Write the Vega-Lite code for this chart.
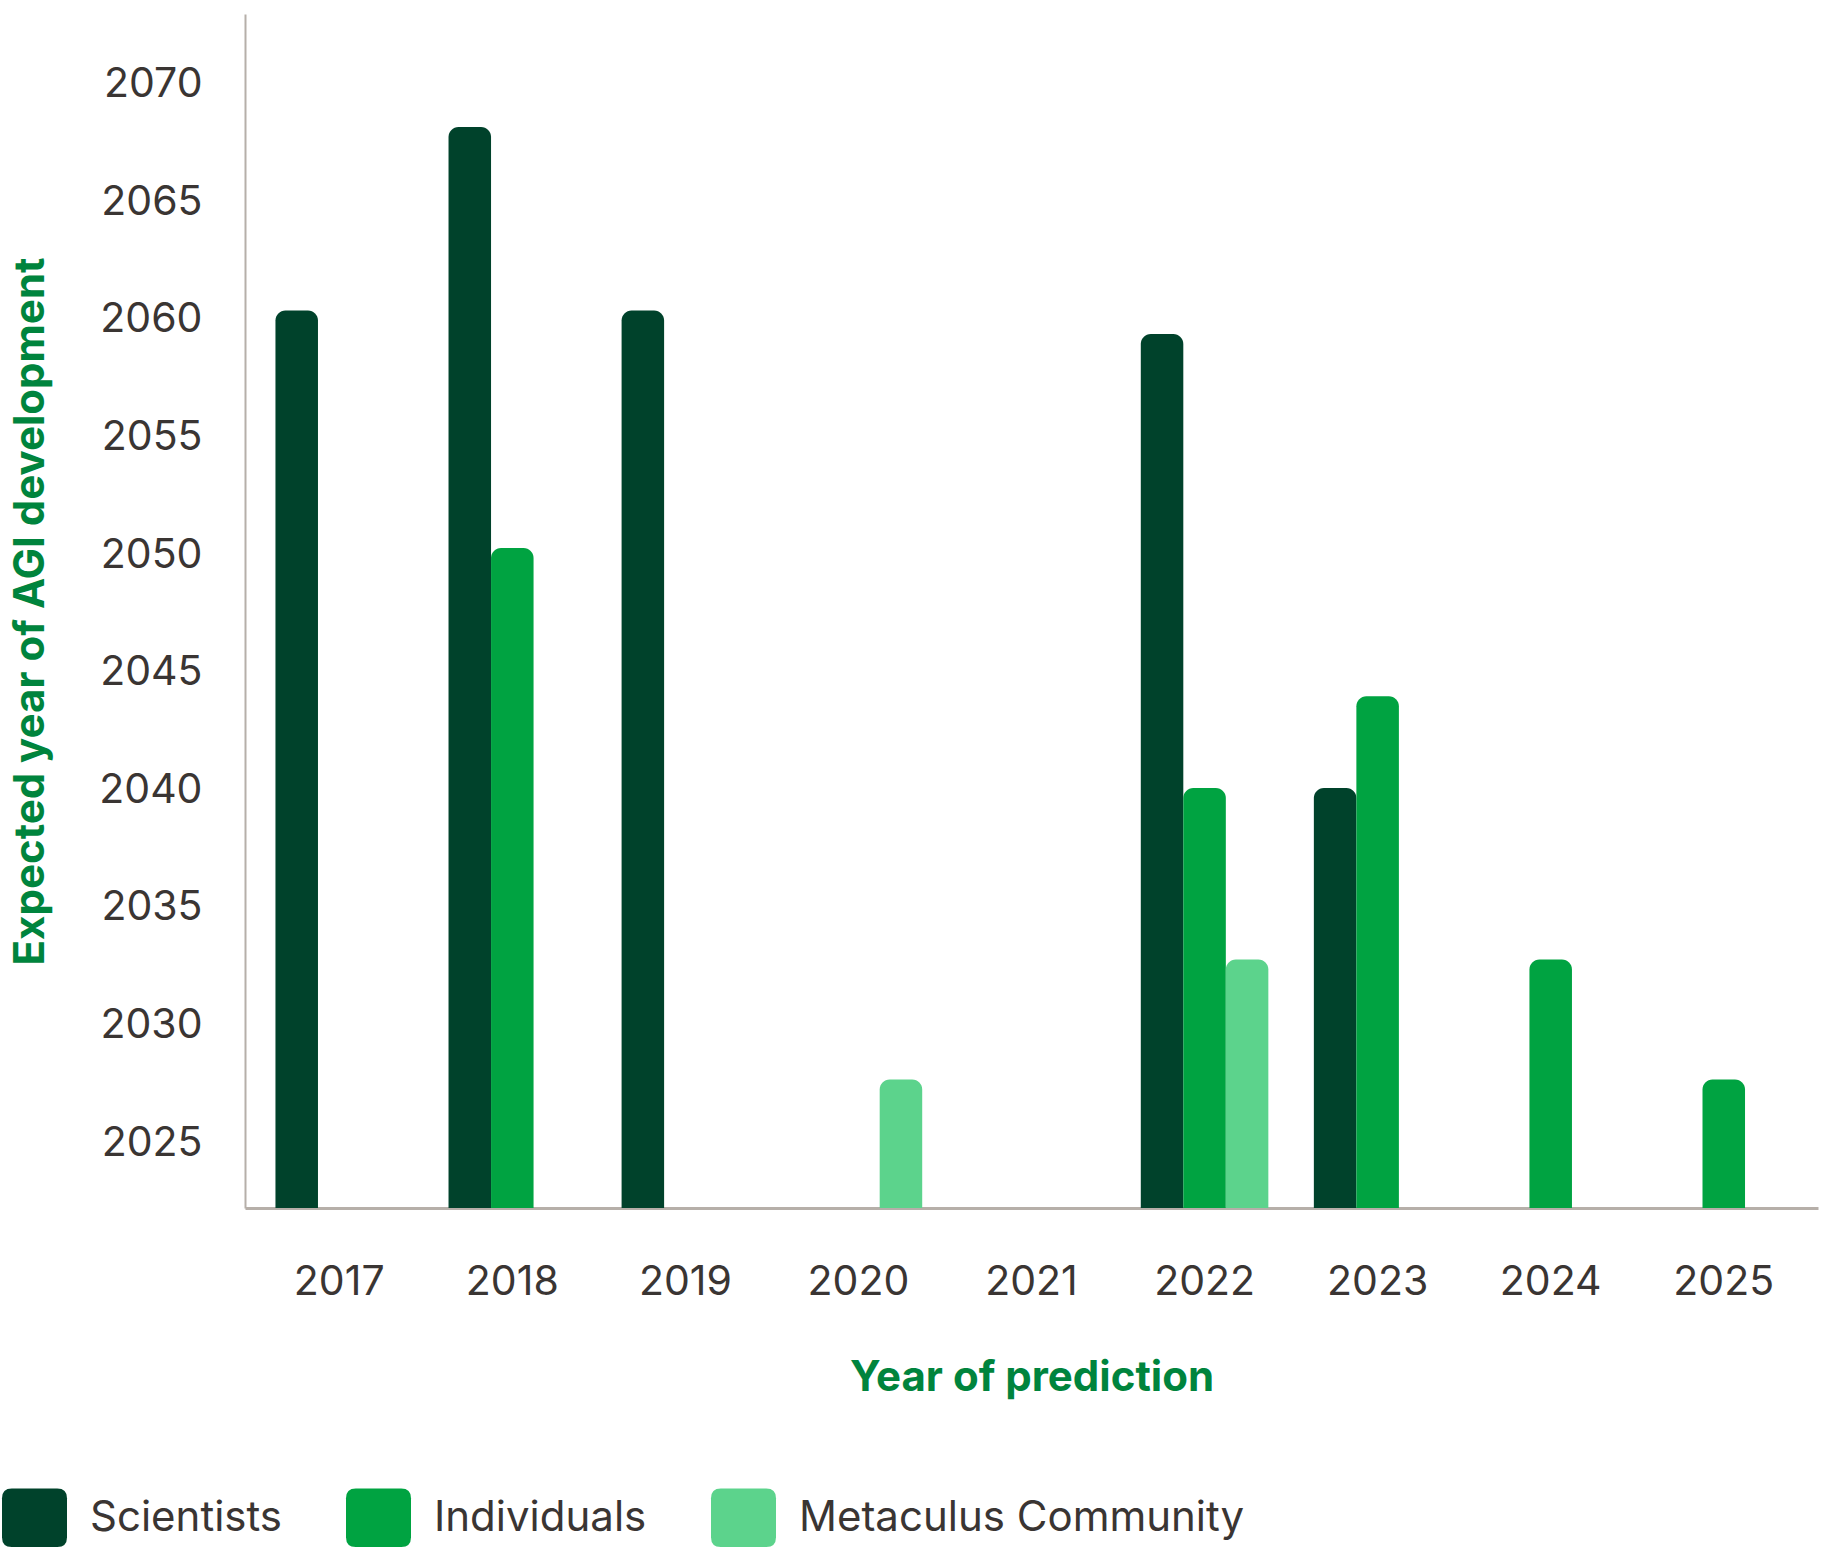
{
  "$schema": "https://vega.github.io/schema/vega-lite/v6.json",
  "autosize": {"type": "none"},
  "padding": {"left": 245, "top": 14, "right": 9, "bottom": 339},
  "width": 1573,
  "height": 1194,
  "background": "white",
  "data": {"values": [
    {"year": "2017", "group": "Scientists", "value": 2060.4},
    {"year": "2018", "group": "Scientists", "value": 2068.2},
    {"year": "2018", "group": "Individuals", "value": 2050.3},
    {"year": "2019", "group": "Scientists", "value": 2060.4},
    {"year": "2020", "group": "Metaculus Community", "value": 2027.7},
    {"year": "2022", "group": "Scientists", "value": 2059.4},
    {"year": "2022", "group": "Individuals", "value": 2040.1},
    {"year": "2022", "group": "Metaculus Community", "value": 2032.8},
    {"year": "2023", "group": "Scientists", "value": 2040.1},
    {"year": "2023", "group": "Individuals", "value": 2044.0},
    {"year": "2024", "group": "Individuals", "value": 2032.8},
    {"year": "2025", "group": "Individuals", "value": 2027.7}
  ]},
  "mark": {"type": "bar", "cornerRadiusTopLeft": 10, "cornerRadiusTopRight": 10},
  "encoding": {
    "x": {
      "field": "year", "type": "nominal",
      "scale": {"domain": ["2017","2018","2019","2020","2021","2022","2023","2024","2025"], "paddingInner": 0.263, "paddingOuter": 0.176},
      "axis": {
        "title": "Year of prediction",
        "labelAngle": 0,
        "labelFont": "Inter", "labelFontSize": 41, "labelColor": "#3a3533",
        "labelPadding": 54,
        "ticks": false,
        "domainColor": "#b6afa9", "domainWidth": 3,
        "titleFont": "Inter", "titleFontSize": 42, "titleFontWeight": "bold", "titleColor": "#00843d",
        "titlePadding": 55
      }
    },
    "xOffset": {
      "field": "group", "type": "nominal",
      "scale": {"domain": ["Scientists", "Individuals", "Metaculus Community"], "paddingInner": 0, "paddingOuter": 0}
    },
    "y": {
      "field": "value", "type": "quantitative",
      "scale": {"domain": [2022.24, 2073], "zero": false, "nice": false},
      "axis": {
        "title": "Expected year of AGI development",
        "values": [2025, 2030, 2035, 2040, 2045, 2050, 2055, 2060, 2065, 2070],
        "format": "d",
        "grid": false,
        "ticks": false,
        "labelFont": "Inter", "labelFontSize": 41, "labelColor": "#3a3533",
        "labelPadding": 43,
        "domainColor": "#b6afa9", "domainWidth": 2,
        "titleFont": "Inter", "titleFontSize": 42, "titleFontWeight": "bold", "titleColor": "#00843d",
        "titlePadding": 46
      }
    },
    "y2": {"datum": 2022.24},
    "color": {
      "field": "group", "type": "nominal",
      "scale": {"domain": ["Scientists", "Individuals", "Metaculus Community"], "range": ["#00422b", "#00a341", "#5cd38c"]},
      "legend": {
        "title": null,
        "orient": "none",
        "legendX": -243,
        "legendY": 1471,
        "direction": "horizontal",
        "padding": 0,
        "symbolType": "M-0.7,-0.9 L0.7,-0.9 Q1,-0.9 1,-0.6 L1,0.6 Q1,0.9 0.7,0.9 L-0.7,0.9 Q-1,0.9 -1,0.6 L-1,-0.6 Q-1,-0.9 -0.7,-0.9 Z",
        "symbolSize": 4225,
        "symbolStrokeWidth": 0,
        "labelFont": "Inter", "labelFontSize": 42, "labelColor": "#3a3533",
        "labelOffset": 23,
        "columnPadding": 64,
        "labelLimit": 600,
        "encode": {
          "symbols": {"update": {"fill": {"signal": "datum.value === 'Individuals' ? '#008a3c' : scale('color', datum.value)"}}}
        }
      }
    }
  },
  "config": {"view": {"stroke": null}}
}
